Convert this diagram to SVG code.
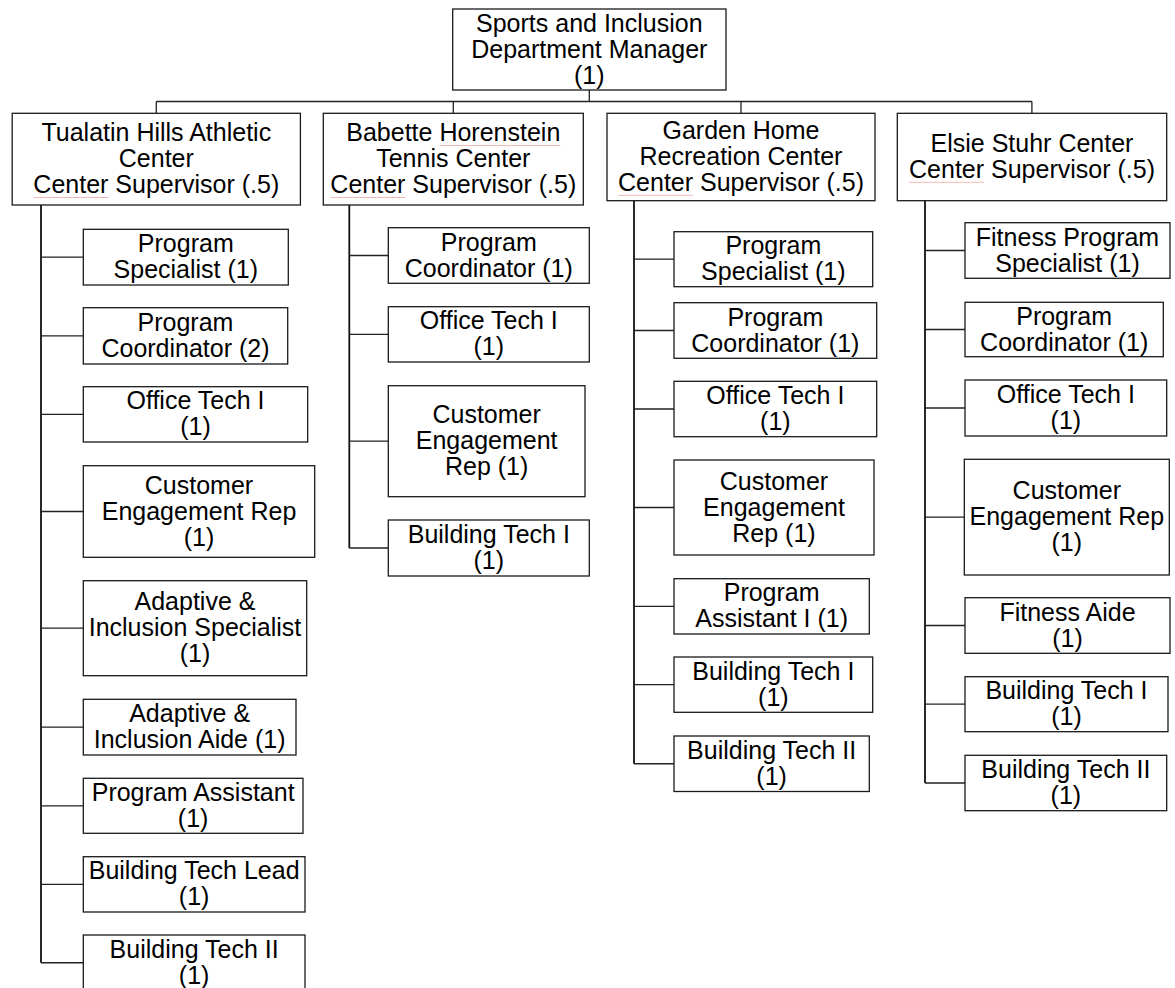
<svg xmlns="http://www.w3.org/2000/svg" width="1175" height="988" viewBox="0 0 1175 988">
  <style>
    .box { fill: #ffffff; stroke: #1a1a1a; stroke-width: 1.3; }
    .lbl { font-family: "Liberation Sans", Arial, sans-serif; font-size: 25px; fill: #000000; text-anchor: middle; }
    .trunk { stroke: #111111; stroke-width: 1.8; fill: none; }
    .branch { stroke: #222222; stroke-width: 1.3; fill: none; }
    .squiggle { stroke: #f0a8a8; stroke-width: 1; fill: none; opacity: 0.8; }
  </style>
  <rect width="1175" height="988" fill="#ffffff"/>

  <!-- reporting lines -->
  <g id="connectors">
    <!-- manager to supervisors -->
    <path class="branch" d="M589.3 90 V101.5 M156.3 101.5 H1031.9 M156.3 101.5 V113.3 M453.3 101.5 V113.3 M741 101.5 V113.3 M1031.9 101.5 V113.3"/>
    <!-- Tualatin Hills Athletic Center -->
    <path class="trunk" d="M41 205 V962.75"/>
    <path class="branch" d="M41 257.15 H83.3 M41 335.85 H83.3 M41 414.35 H83.3 M41 511.5 H83.3 M41 628.2 H83.3 M41 727.15 H83.3 M41 805.8 H83.3 M41 884.35 H83.3 M41 962.75 H83.3"/>
    <!-- Babette Horenstein Tennis Center -->
    <path class="trunk" d="M349.3 205 V548"/>
    <path class="branch" d="M349.3 255.5 H388.3 M349.3 334.35 H388.3 M349.3 441.2 H388.3 M349.3 548 H388.3"/>
    <!-- Garden Home Recreation Center -->
    <path class="trunk" d="M634 200.7 V763.75"/>
    <path class="branch" d="M634 259.2 H674 M634 330.5 H674 M634 409 H674 M634 507.5 H674 M634 606.35 H674 M634 684.65 H674 M634 763.75 H674"/>
    <!-- Elsie Stuhr Center -->
    <path class="trunk" d="M925 200.7 V783"/>
    <path class="branch" d="M925 250.5 H965 M925 329.5 H965 M925 408 H965 M925 517.15 H964.3 M925 625.5 H965 M925 704.2 H965 M925 783 H965"/>
  </g>

  <!-- department manager -->
  <g id="manager">
    <rect class="box" x="452.7" y="9" width="273.3" height="81"/>
    <text class="lbl" x="589.3" y="31.5">Sports and Inclusion</text>
    <text class="lbl" x="589.3" y="57.5">Department Manager</text>
    <text class="lbl" x="589.3" y="83.5">(1)</text>
  </g>

  <!-- center supervisors -->
  <g id="sup-tualatin">
    <rect class="box" x="12.2" y="113.3" width="288.2" height="91.7"/>
    <text class="lbl" x="156.3" y="141.2">Tualatin Hills Athletic</text>
    <text class="lbl" x="156.3" y="167.2">Center</text>
    <text class="lbl" x="156.3" y="193.2">Center Supervisor (.5)</text>
    <path class="squiggle" d="M33.5 197.5 H108.5"/>
  </g>
  <g id="sup-babette">
    <rect class="box" x="323.3" y="113.3" width="260" height="91.7"/>
    <text class="lbl" x="453.3" y="141.2">Babette Horenstein</text>
    <text class="lbl" x="453.3" y="167.2">Tennis Center</text>
    <text class="lbl" x="453.3" y="193.2">Center Supervisor (.5)</text>
    <path class="squiggle" d="M439.5 145.5 H560.5 M330.5 197.5 H405.5"/>
  </g>
  <g id="sup-garden">
    <rect class="box" x="607" y="113.3" width="268" height="87.4"/>
    <text class="lbl" x="741" y="139">Garden Home</text>
    <text class="lbl" x="741" y="165">Recreation Center</text>
    <text class="lbl" x="741" y="191">Center Supervisor (.5)</text>
    <path class="squiggle" d="M618 195.3 H693"/>
  </g>
  <g id="sup-elsie">
    <rect class="box" x="897.3" y="113.3" width="269.4" height="87.4"/>
    <text class="lbl" x="1032" y="152">Elsie Stuhr Center</text>
    <text class="lbl" x="1032" y="178">Center Supervisor (.5)</text>
    <path class="squiggle" d="M909 182.3 H984"/>
  </g>

  <!-- Tualatin Hills Athletic Center staff -->
  <g id="tha-program-specialist">
    <rect class="box" x="83.3" y="229.3" width="205" height="55.7"/>
    <text class="lbl" x="185.8" y="252.2">Program</text>
    <text class="lbl" x="185.8" y="278.2">Specialist (1)</text>
  </g>
  <g id="tha-program-coordinator">
    <rect class="box" x="83.3" y="307.7" width="204.4" height="56.3"/>
    <text class="lbl" x="185.5" y="330.9">Program</text>
    <text class="lbl" x="185.5" y="356.9">Coordinator (2)</text>
  </g>
  <g id="tha-office-tech">
    <rect class="box" x="83.3" y="386.7" width="224.4" height="55.3"/>
    <text class="lbl" x="195.5" y="409.4">Office Tech I</text>
    <text class="lbl" x="195.5" y="435.4">(1)</text>
  </g>
  <g id="tha-customer-rep">
    <rect class="box" x="83.3" y="465.7" width="231.4" height="91.6"/>
    <text class="lbl" x="199" y="493.5">Customer</text>
    <text class="lbl" x="199" y="519.5">Engagement Rep</text>
    <text class="lbl" x="199" y="545.5">(1)</text>
  </g>
  <g id="tha-inclusion-specialist">
    <rect class="box" x="83.3" y="580.7" width="223.4" height="95"/>
    <text class="lbl" x="195" y="610.2">Adaptive &amp;</text>
    <text class="lbl" x="195" y="636.2">Inclusion Specialist</text>
    <text class="lbl" x="195" y="662.2">(1)</text>
  </g>
  <g id="tha-inclusion-aide">
    <rect class="box" x="83.3" y="699.3" width="212.7" height="55.7"/>
    <text class="lbl" x="189.65" y="722.2">Adaptive &amp;</text>
    <text class="lbl" x="189.65" y="748.2">Inclusion Aide (1)</text>
  </g>
  <g id="tha-program-assistant">
    <rect class="box" x="83.3" y="778.3" width="219.7" height="55"/>
    <text class="lbl" x="193.15" y="800.8">Program Assistant</text>
    <text class="lbl" x="193.15" y="826.8">(1)</text>
  </g>
  <g id="tha-building-lead">
    <rect class="box" x="83.3" y="856.7" width="221.7" height="55.3"/>
    <text class="lbl" x="194.15" y="879.4">Building Tech Lead</text>
    <text class="lbl" x="194.15" y="905.4">(1)</text>
  </g>
  <g id="tha-building-tech-2">
    <rect class="box" x="83.3" y="935" width="221.7" height="55.5"/>
    <text class="lbl" x="194.15" y="957.8">Building Tech II</text>
    <text class="lbl" x="194.15" y="983.8">(1)</text>
  </g>

  <!-- Babette Horenstein Tennis Center staff -->
  <g id="bht-program-coordinator">
    <rect class="box" x="388.3" y="227.7" width="201" height="55.6"/>
    <text class="lbl" x="488.8" y="250.5">Program</text>
    <text class="lbl" x="488.8" y="276.5">Coordinator (1)</text>
  </g>
  <g id="bht-office-tech">
    <rect class="box" x="388.3" y="306.7" width="201" height="55.3"/>
    <text class="lbl" x="488.8" y="329.4">Office Tech I</text>
    <text class="lbl" x="488.8" y="355.4">(1)</text>
  </g>
  <g id="bht-customer-rep">
    <rect class="box" x="388.3" y="385.7" width="196.7" height="111"/>
    <text class="lbl" x="486.65" y="423.2">Customer</text>
    <text class="lbl" x="486.65" y="449.2">Engagement</text>
    <text class="lbl" x="486.65" y="475.2">Rep (1)</text>
  </g>
  <g id="bht-building-tech-1">
    <rect class="box" x="388.3" y="520" width="201" height="56"/>
    <text class="lbl" x="488.8" y="543">Building Tech I</text>
    <text class="lbl" x="488.8" y="569">(1)</text>
  </g>

  <!-- Garden Home Recreation Center staff -->
  <g id="ghr-program-specialist">
    <rect class="box" x="674" y="231.7" width="198.7" height="55"/>
    <text class="lbl" x="773.35" y="254.2">Program</text>
    <text class="lbl" x="773.35" y="280.2">Specialist (1)</text>
  </g>
  <g id="ghr-program-coordinator">
    <rect class="box" x="674" y="302.7" width="202.7" height="55.6"/>
    <text class="lbl" x="775.35" y="325.5">Program</text>
    <text class="lbl" x="775.35" y="351.5">Coordinator (1)</text>
  </g>
  <g id="ghr-office-tech">
    <rect class="box" x="674" y="381.3" width="202.7" height="55.4"/>
    <text class="lbl" x="775.35" y="404">Office Tech I</text>
    <text class="lbl" x="775.35" y="430">(1)</text>
  </g>
  <g id="ghr-customer-rep">
    <rect class="box" x="674" y="460" width="200" height="95"/>
    <text class="lbl" x="774" y="489.5">Customer</text>
    <text class="lbl" x="774" y="515.5">Engagement</text>
    <text class="lbl" x="774" y="541.5">Rep (1)</text>
  </g>
  <g id="ghr-program-assistant">
    <rect class="box" x="674" y="578.7" width="195.3" height="55.3"/>
    <text class="lbl" x="771.65" y="601.4">Program</text>
    <text class="lbl" x="771.65" y="627.4">Assistant I (1)</text>
  </g>
  <g id="ghr-building-tech-1">
    <rect class="box" x="674" y="657" width="198.7" height="55.3"/>
    <text class="lbl" x="773.35" y="679.7">Building Tech I</text>
    <text class="lbl" x="773.35" y="705.7">(1)</text>
  </g>
  <g id="ghr-building-tech-2">
    <rect class="box" x="674" y="736" width="195.3" height="55.5"/>
    <text class="lbl" x="771.65" y="758.8">Building Tech II</text>
    <text class="lbl" x="771.65" y="784.8">(1)</text>
  </g>

  <!-- Elsie Stuhr Center staff -->
  <g id="esc-fitness-specialist">
    <rect class="box" x="965" y="222.7" width="205" height="55.6"/>
    <text class="lbl" x="1067.5" y="245.5">Fitness Program</text>
    <text class="lbl" x="1067.5" y="271.5">Specialist (1)</text>
  </g>
  <g id="esc-program-coordinator">
    <rect class="box" x="965" y="302.3" width="198.3" height="54.4"/>
    <text class="lbl" x="1064.15" y="324.5">Program</text>
    <text class="lbl" x="1064.15" y="350.5">Coordinator (1)</text>
  </g>
  <g id="esc-office-tech">
    <rect class="box" x="965" y="380" width="201.7" height="56"/>
    <text class="lbl" x="1065.85" y="403">Office Tech I</text>
    <text class="lbl" x="1065.85" y="429">(1)</text>
  </g>
  <g id="esc-customer-rep">
    <rect class="box" x="964.3" y="459.3" width="205" height="115.7"/>
    <text class="lbl" x="1066.8" y="499.2">Customer</text>
    <text class="lbl" x="1066.8" y="525.2">Engagement Rep</text>
    <text class="lbl" x="1066.8" y="551.2">(1)</text>
  </g>
  <g id="esc-fitness-aide">
    <rect class="box" x="965" y="597.7" width="205" height="55.6"/>
    <text class="lbl" x="1067.5" y="620.5">Fitness Aide</text>
    <text class="lbl" x="1067.5" y="646.5">(1)</text>
  </g>
  <g id="esc-building-tech-1">
    <rect class="box" x="965" y="676.7" width="203" height="55"/>
    <text class="lbl" x="1066.5" y="699.2">Building Tech I</text>
    <text class="lbl" x="1066.5" y="725.2">(1)</text>
  </g>
  <g id="esc-building-tech-2">
    <rect class="box" x="965" y="755.3" width="201.7" height="55.4"/>
    <text class="lbl" x="1065.85" y="778">Building Tech II</text>
    <text class="lbl" x="1065.85" y="804">(1)</text>
  </g>
</svg>
